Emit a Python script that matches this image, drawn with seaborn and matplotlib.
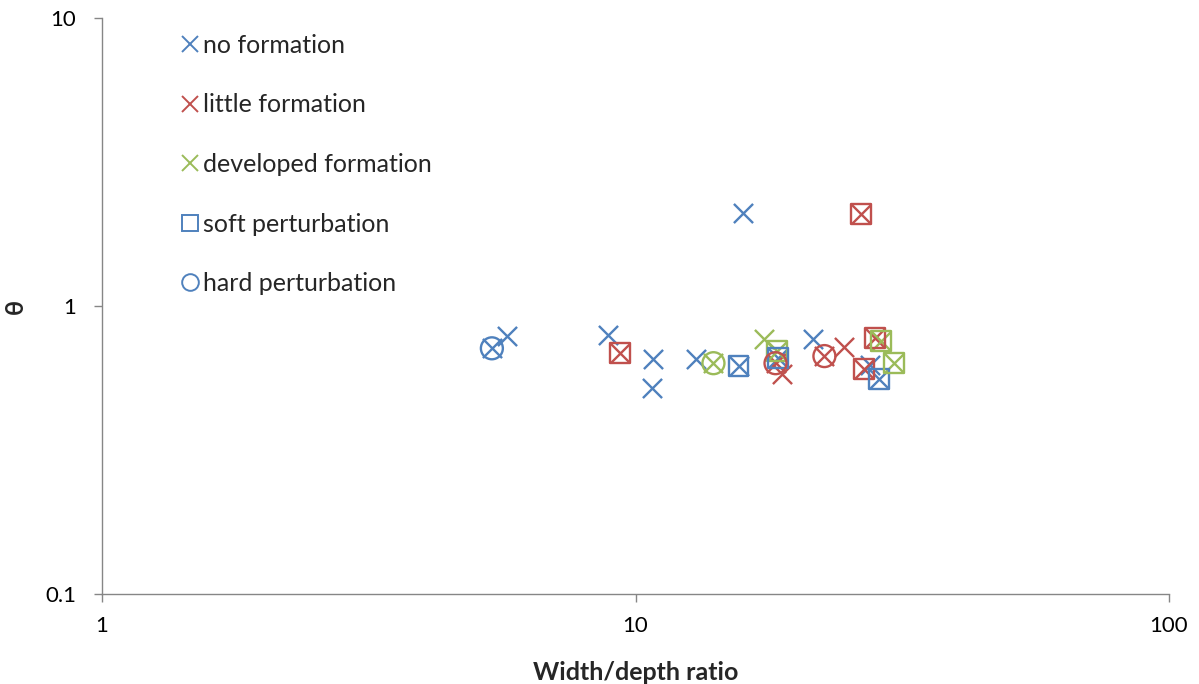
import matplotlib
matplotlib.use("Agg")
import matplotlib.pyplot as plt
from matplotlib.lines import Line2D
from matplotlib.ticker import FixedLocator, FixedFormatter, NullLocator
import seaborn as sns
import pandas as pd

# Width/depth ratio and theta for each formation class
no_formation_x = [5.38, 5.74, 8.89, 10.8, 10.75, 13.0, 15.6, 15.9, 18.5, 21.5, 27.5, 28.6]
no_formation_y = [0.713, 0.787, 0.793, 0.653, 0.52, 0.653, 0.619, 2.10, 0.658, 0.766, 0.624, 0.557]

little_formation_x = [9.35, 18.3, 18.8, 22.6, 24.6, 28.1, 26.8, 26.5]
little_formation_y = [0.685, 0.633, 0.58, 0.67, 0.719, 0.773, 0.603, 2.09]

developed_formation_x = [14.0, 17.4, 18.4, 28.9, 30.5]
developed_formation_y = [0.633, 0.766, 0.70, 0.758, 0.636]

# Runs with perturbation, tagged by formation class
soft_x = [9.35, 15.6, 18.4, 18.5, 28.1, 28.9, 26.8, 28.6, 30.5, 26.5]
soft_y = [0.685, 0.619, 0.70, 0.658, 0.773, 0.758, 0.603, 0.557, 0.636, 2.09]
soft_class = ["little", "no", "developed", "no", "little", "developed",
              "little", "no", "developed", "little"]

hard_x = [5.38, 14.0, 18.3, 22.6]
hard_y = [0.713, 0.633, 0.633, 0.67]
hard_class = ["no", "developed", "little", "little"]

x_ticks = [1, 10, 100]
y_ticks = [0.1, 1, 10]
x_tick_labels = ["1", "10", "100"]
y_tick_labels = ["0.1", "1", "10"]

BLUE, RED, GREEN = "#4F81BD", "#C0504D", "#9BBB59"
class_palette = {"no": BLUE, "little": RED, "developed": GREEN}

sns.set_style("white")
plt.rcParams["font.family"] = ["Lato", "DejaVu Sans"]

fig = plt.figure(figsize=(11.99, 6.84), dpi=100)
ax = fig.add_axes([102 / 1199, 1 - 594 / 684, (1169 - 102) / 1199, (594 - 18) / 684])

lw = 1.7
xs = 190

for xv, yv, col in [(no_formation_x, no_formation_y, BLUE),
                    (little_formation_x, little_formation_y, RED),
                    (developed_formation_x, developed_formation_y, GREEN)]:
    sns.scatterplot(x=xv, y=yv, ax=ax, marker="x", color=col, s=xs,
                    linewidth=lw, legend=False, zorder=3)

soft_df = pd.DataFrame({"x": soft_x, "y": soft_y, "cls": soft_class})
hard_df = pd.DataFrame({"x": hard_x, "y": hard_y, "cls": hard_class})

sns.scatterplot(data=soft_df, x="x", y="y", hue="cls", palette=class_palette,
                marker="s", s=205, linewidth=lw, legend=False, ax=ax, zorder=3)
coll = ax.collections[-1]
coll.set_facecolor("none")
coll.set_edgecolor([class_palette[c] for c in soft_class])

sns.scatterplot(data=hard_df, x="x", y="y", hue="cls", palette=class_palette,
                marker="o", s=250, linewidth=lw, legend=False, ax=ax, zorder=3)
coll = ax.collections[-1]
coll.set_facecolor("none")
coll.set_edgecolor([class_palette[c] for c in hard_class])

ax.set_xscale("log")
ax.set_yscale("log")
ax.set_xlim(1, 100)
ax.set_ylim(0.1, 10)

ax.xaxis.set_major_locator(FixedLocator(x_ticks))
ax.xaxis.set_major_formatter(FixedFormatter(x_tick_labels))
ax.yaxis.set_major_locator(FixedLocator(y_ticks))
ax.yaxis.set_major_formatter(FixedFormatter(y_tick_labels))
ax.xaxis.set_minor_locator(NullLocator())
ax.yaxis.set_minor_locator(NullLocator())

axis_gray = "#868686"
for side in ["top", "right"]:
    ax.spines[side].set_visible(False)
for side in ["left", "bottom"]:
    ax.spines[side].set_color(axis_gray)
    ax.spines[side].set_linewidth(1.0)
ax.tick_params(axis="both", which="major", direction="out", length=5.5,
               width=1.0, color=axis_gray, labelsize=16, labelcolor="#000000",
               left=True, bottom=True)
ax.tick_params(axis="y", pad=13)
ax.tick_params(axis="x", pad=10)

ax.set_xlabel("Width/depth ratio", fontsize=18, fontweight="bold")
ax.xaxis.set_label_coords(0.5, -(661 - 594) / 576)
ax.set_ylabel("θ", fontsize=18, fontweight="bold")
ax.yaxis.set_label_coords(-(102 - 27) / 1067, 0.5)

mk = dict(linestyle="none", markersize=12, markeredgewidth=1.4)
handles = [
    Line2D([], [], marker="x", color=BLUE, **mk),
    Line2D([], [], marker="x", color=RED, **mk),
    Line2D([], [], marker="x", color=GREEN, **mk),
    Line2D([], [], marker="s", markerfacecolor="none", markeredgecolor=BLUE, **mk),
    Line2D([], [], marker="o", markerfacecolor="none", markeredgecolor=BLUE, **mk),
]
labels = ["no formation", "little formation", "developed formation",
          "soft perturbation", "hard perturbation"]
fig.legend(handles, labels, loc="upper left", bbox_to_anchor=(182 / 1199, 1 - 34 / 684),
           frameon=False, fontsize=18, handlelength=0.64, handletextpad=0.2,
           labelspacing=1.46, borderaxespad=0, borderpad=0)

fig.savefig("out.png", dpi=100)
